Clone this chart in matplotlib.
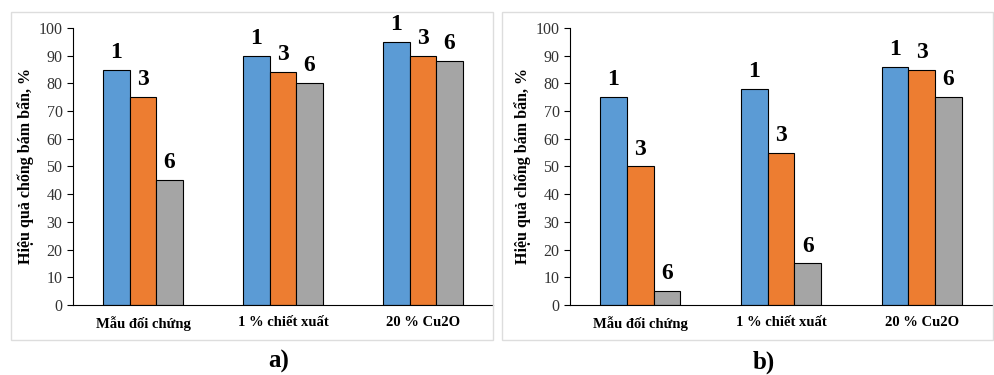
import matplotlib.pyplot as plt
import numpy as np
from matplotlib.patches import Rectangle

plt.rcParams['font.family'] = ['Liberation Serif', 'DejaVu Serif']

categories = ["Mẫu đối chứng", "1 % chiết xuất", "20 % Cu2O"]
series_names = ["1", "3", "6"]
colors = ["#5B9BD5", "#ED7D31", "#A5A5A5"]

# panel a
a_1 = [85, 90, 95]
a_3 = [75, 84, 90]
a_6 = [45, 80, 88]
# panel b
b_1 = [75, 78, 86]
b_3 = [50, 55, 85]
b_6 = [5, 15, 75]

fig = plt.figure(figsize=(9.94, 3.75), dpi=100)

# khung xám nhạt quanh từng hình
for x0, w in [(0.011, 0.485), (0.505, 0.494)]:
    fig.patches.append(Rectangle((x0, 0.093), w, 0.875, transform=fig.transFigure,
                                 fill=False, edgecolor="#dddddd", linewidth=1))

ax_a = fig.add_axes([0.0734, 0.1867, 0.4226, 0.7387])
ax_b = fig.add_axes([0.5734, 0.1867, 0.4245, 0.7387])


def draw(ax, data):
    x = np.arange(len(categories))
    w = 0.19
    for i, vals in enumerate(data):
        pos = x + (i - 1) * w
        ax.bar(pos, vals, width=w, color=colors[i], edgecolor="black", linewidth=0.8)
        for p, v in zip(pos, vals):
            ax.text(p, v + 2.5, series_names[i], ha="center", va="bottom",
                    fontsize=17, fontweight="bold")
    ax.set_xlim(-0.5, 2.5)
    ax.set_ylim(0, 100)
    ax.set_yticks(range(0, 101, 10))
    ax.set_xticks(x)
    ax.set_xticklabels(categories, fontweight="bold", fontsize=10.5)
    ax.tick_params(axis="x", length=0, pad=8)
    ax.tick_params(axis="y", length=4, labelsize=11.5, direction="out", labelcolor="#333333")
    ax.spines["top"].set_visible(False)
    ax.spines["right"].set_visible(False)
    ax.set_ylabel("Hiệu quả chống bám bẩn, %", fontweight="bold", fontsize=11.5, labelpad=3)


draw(ax_a, [a_1, a_3, a_6])
draw(ax_b, [b_1, b_3, b_6])

fig.text(0.28, 0.035, "a)", ha="center", va="center", fontsize=18, fontweight="bold")
fig.text(0.768, 0.035, "b)", ha="center", va="center", fontsize=18, fontweight="bold")

fig.savefig("out.png", dpi=100)
